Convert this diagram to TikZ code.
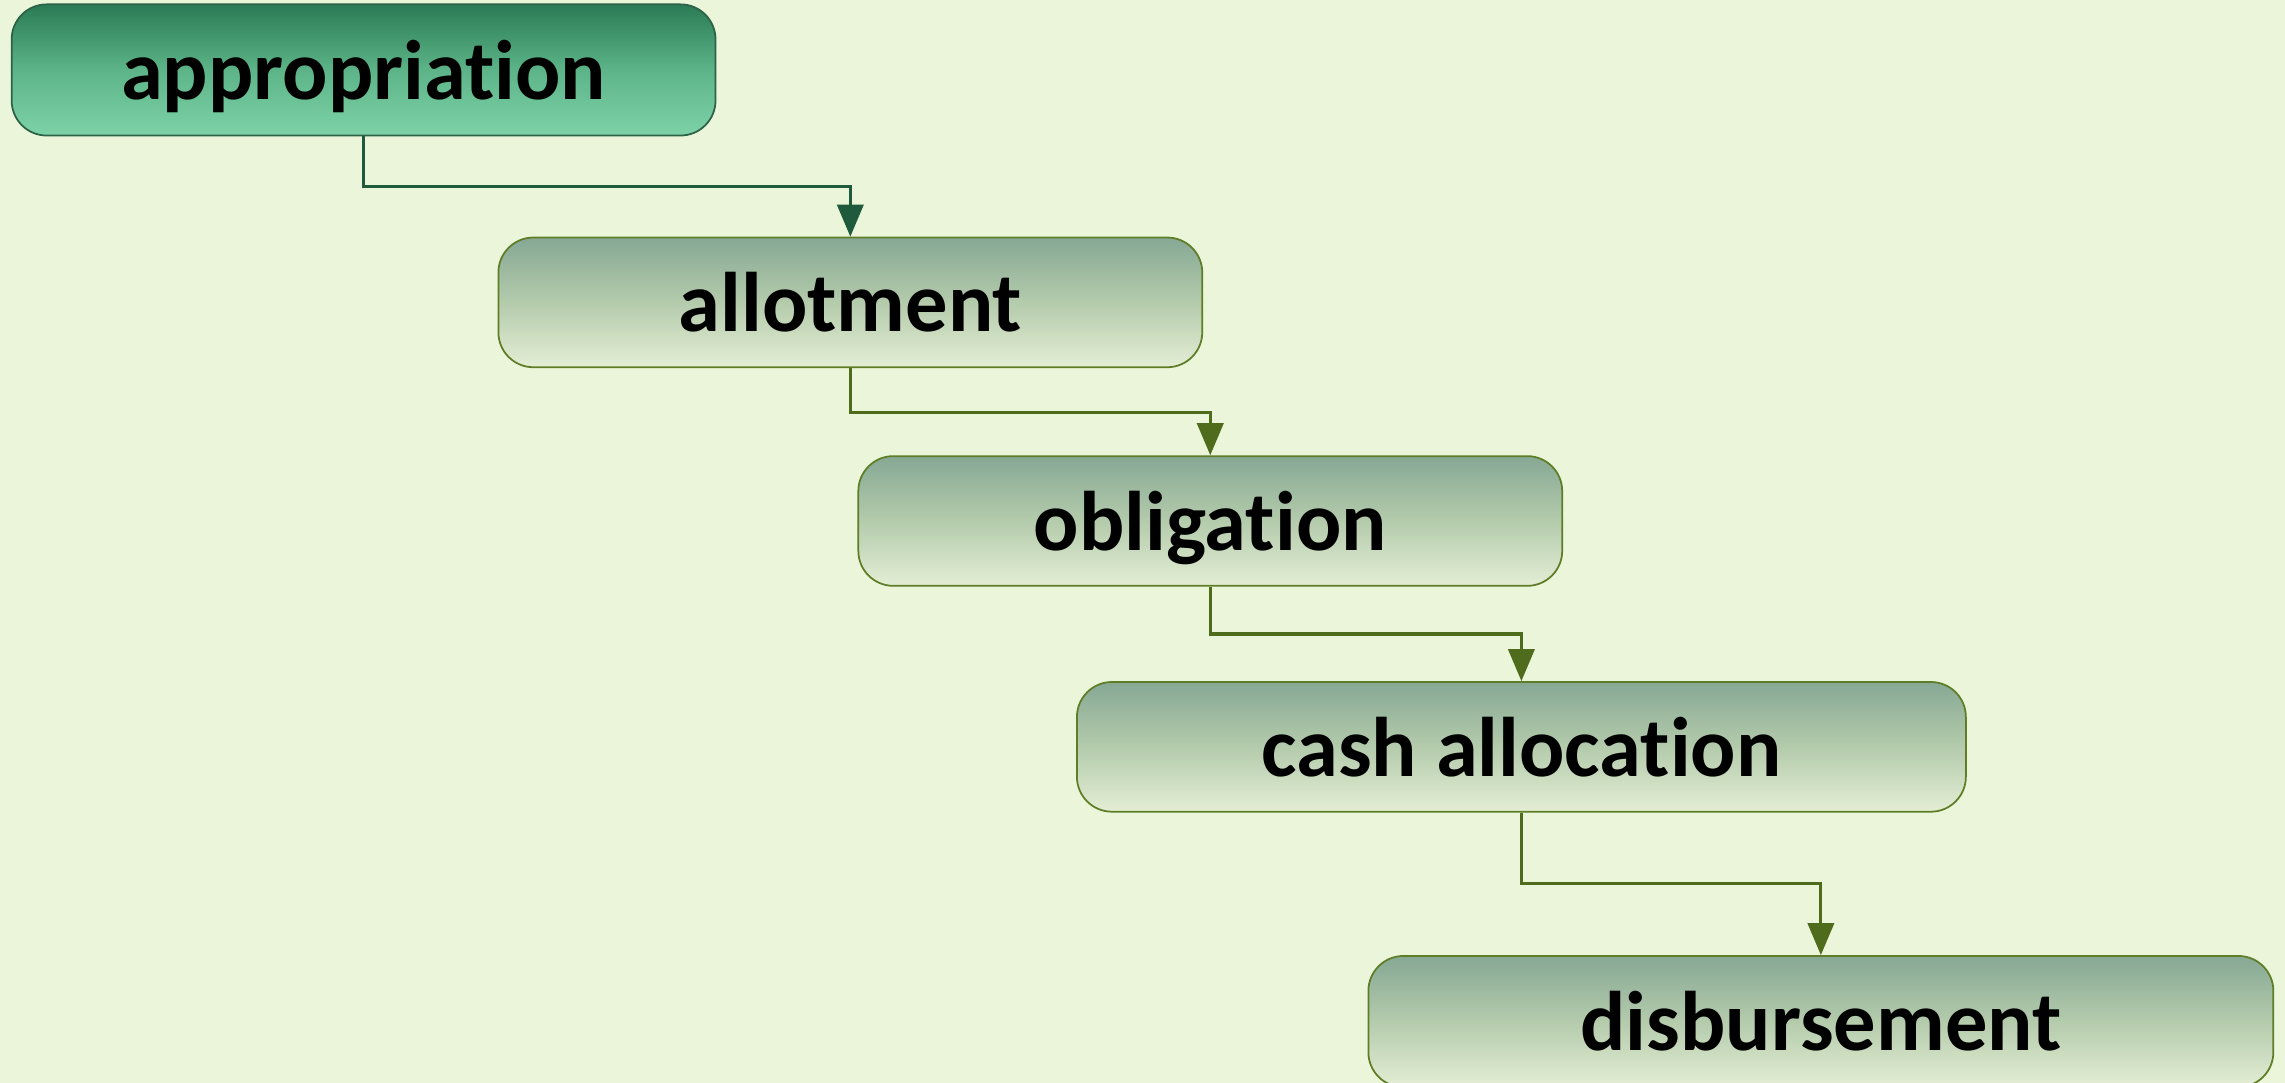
\documentclass[tikz,border=0pt]{standalone}
\usepackage{fontspec}
\setmainfont[Ligatures={NoCommon}]{Carlito}
\usetikzlibrary{arrows.meta}
\definecolor{bgc}{HTML}{EAF5D9}
\definecolor{topA}{HTML}{2A7B55}
\definecolor{midA}{HTML}{5DB488}
\definecolor{botA}{HTML}{7DD3A7}
\definecolor{edgeA}{HTML}{2D6246}
\definecolor{topB}{HTML}{86A894}
\definecolor{midB}{HTML}{B4CBAC}
\definecolor{botB}{HTML}{E4EED4}
\definecolor{edgeB}{HTML}{5E7D26}
\definecolor{lineA}{HTML}{1F5A3D}
\definecolor{lineB}{HTML}{4F6B1C}
\tikzset{
  box/.style={rectangle, rounded corners=12, inner sep=0pt,
    text height=24pt, text depth=4pt,
    font=\fontsize{29}{34}\selectfont\bfseries, text=black, line width=0.6pt},
  boxA/.style={box, draw=edgeA, top color=topA, bottom color=botA, middle color=midA},
  boxB/.style={box, draw=edgeB, top color=topB, bottom color=botB, middle color=midB},
  conn/.style={line width=1.1pt, -{Triangle[length=11pt,width=9pt]}},
}
\begin{document}
\begin{tikzpicture}[x=0.5pt,y=-0.5pt]
\fill[bgc] (0,0) rectangle (1568,743);
\useasboundingbox (0,0) rectangle (1568,743);
\clip (0,0) rectangle (1568,743);
\node[boxA, minimum width=241.5pt, minimum height=45pt] (a) at (249.5,48) {appropriation};
\node[boxB, minimum width=241.5pt, minimum height=44.5pt] (b) at (583.5,207.5) {allotment};
\node[boxB, minimum width=241.5pt, minimum height=44.5pt] (c) at (830.5,357.5) {obligation};
\node[boxB, minimum width=305pt, minimum height=44.5pt] (d) at (1044,512.5) {cash allocation};
\node[boxB, minimum width=310.5pt, minimum height=45pt] (e) at (1249.5,701) {disbursement};
\coordinate (ab) at (249,128);
\coordinate (bc) at (583,283);
\coordinate (cd) at (830,435);
\coordinate (de) at (1044,606);
\draw[conn, draw=lineA] (a.south) -- (a.south |- ab) -| (b.north);
\draw[conn, draw=lineB] (b.south) -- (b.south |- bc) -| (c.north);
\draw[conn, draw=lineB] (c.south) -- (c.south |- cd) -| (d.north);
\draw[conn, draw=lineB] (d.south) -- (d.south |- de) -| (e.north);
\end{tikzpicture}
\end{document}
